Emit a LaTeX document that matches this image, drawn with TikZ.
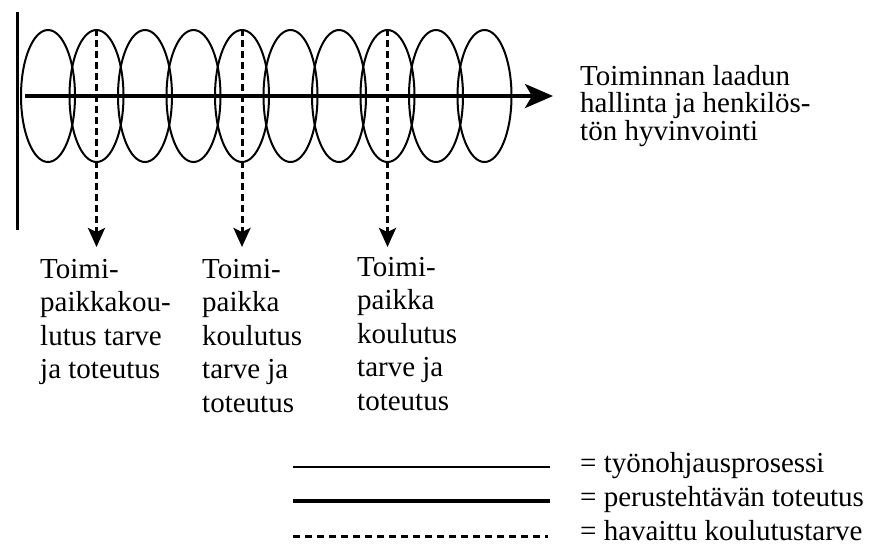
\documentclass[tikz,border=0pt]{standalone}
\usepackage{fontspec}
\setmainfont{Liberation Serif}
\usetikzlibrary{arrows.meta, shapes.geometric}
\tikzset{
    ring/.style={ellipse, draw, line width=2pt, minimum width=54pt, minimum height=132pt, inner sep=0pt}, % one round of supervision
    startbar/.style={line width=3pt}, % where the process begins
    flow/.style={line width=4pt, -{Stealth[length=28pt, width=24pt, inset=7pt]}}, % the basic task line
    needarrow/.style={line width=3pt, dash pattern=on 7pt off 4pt, -{Stealth[length=19pt, width=17pt, inset=4pt]}},
    needtext/.style={anchor=north west, align=left, inner sep=0pt, font=\fontsize{29}{33.5}\selectfont},
    aimtext/.style={anchor=north west, align=left, inner sep=0pt, font=\fontsize{29}{27.5}\selectfont},
    keytext/.style={anchor=base west, inner sep=0pt, font=\fontsize{29}{34}\selectfont},
}
\begin{document}
\begin{tikzpicture}[x=1pt, y=-1pt]
    \useasboundingbox (0,0) rectangle (877,550);

    % start line and the row of rounds
    \coordinate (bartop) at (17,12);
    \coordinate (barbot) at (17,230);
    \draw[startbar] (bartop) -- (barbot);
    \foreach \i in {1,...,10}
        \node[ring] (r\i) at ({48.5*\i-0.5},96) {};

    % main line through the rounds
    \coordinate (from) at (25,96);
    \coordinate (goal) at (553,96);
    \draw[flow] (from) -- (goal);
    \node[aimtext] (aim) at (580,65) {Toiminnan laadun\\hallinta ja henkilös-\\tön hyvinvointi};

    % training needs picked up on the way
    \node[needtext] (t1) at (40,259) {Toimi-\\paikkakou-\\lutus tarve\\ja toteutus};
    \node[needtext] (t2) at (202,259) {Toimi-\\paikka\\koulutus\\tarve ja\\toteutus};
    \node[needtext] (t3) at (357,257) {Toimi-\\paikka\\koulutus\\tarve ja\\toteutus};
    \draw[needarrow] (r2.north) -- ([yshift=12pt]r2.north |- t1.north);
    \draw[needarrow] (r5.north) -- ([yshift=12pt]r5.north |- t2.north);
    \draw[needarrow] (r8.north) -- ([yshift=10pt]r8.north |- t3.north);

    % legend
    \node[keytext] (k1) at (580,472) {= työnohjausprosessi};
    \node[keytext] (k2) at (580,506) {= perustehtävän toteutus};
    \node[keytext] (k3) at (580,540) {= havaittu koulutustarve};
    \coordinate (k1a) at (293,467);
    \coordinate (k1b) at (550,467);
    \coordinate (k2a) at (293,501);
    \coordinate (k2b) at (550,501);
    \coordinate (k3a) at (293,536);
    \coordinate (k3b) at (548,536);
    \draw[line width=2pt] (k1a) -- (k1b);
    \draw[line width=4pt] (k2a) -- (k2b);
    \draw[line width=3pt, dash pattern=on 7pt off 5pt] (k3a) -- (k3b);
\end{tikzpicture}
\end{document}
